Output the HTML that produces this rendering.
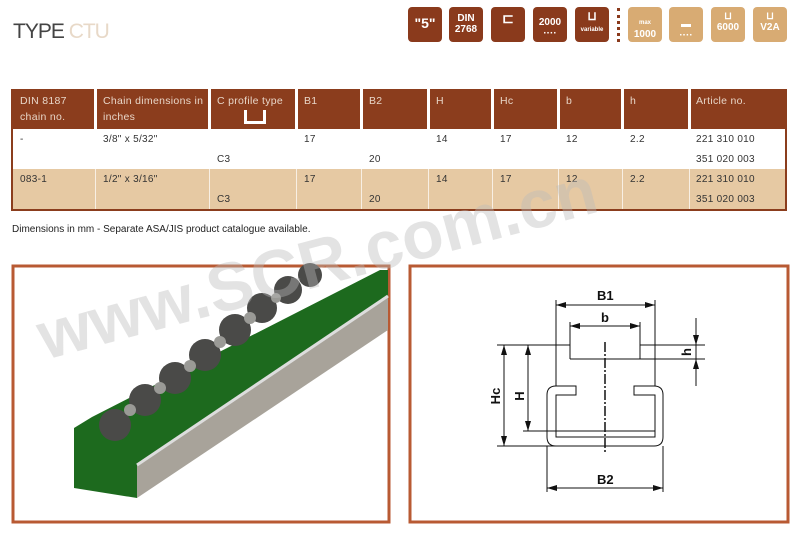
<!DOCTYPE html>
<html><head><meta charset="utf-8"><style>
body{margin:0;width:800px;height:534px;background:#fff;position:relative;overflow:hidden;font-family:"Liberation Sans",sans-serif}
.ic{position:absolute;top:7px;width:34px;height:35px;border-radius:4px;color:#fff;font-weight:bold;text-align:center;font-size:10px;line-height:11px;box-sizing:border-box;padding-top:6px}
.d{background:#8a3a1c}.l{background:#d8ab73}
.tbl{position:absolute;left:11px;top:89px;width:776px;height:122px;background:#8b3d1d}
.c{position:absolute;font-size:10px;color:#333;letter-spacing:.3px}
.h{color:#e8d6c8;font-size:10.5px;line-height:16px}
.sep{position:absolute;top:89px;width:3px;height:40px;background:#fff}
.sep2{position:absolute;top:129px;width:1px;height:80px;background:#fff;opacity:.7}
</style></head><body>
<div style="position:absolute;left:13px;top:20px;font-size:21px;color:#444;letter-spacing:-1px;font-weight:300">TYPE <span style="color:#e8d9c8">CTU</span></div>
<div class="ic d" style="left:408px;font-size:14px;padding-top:11px">"5"</div>
<div class="ic d" style="left:449px">DIN<br>2768</div>
<div class="ic d" style="left:491px;font-size:14px">⊏</div>
<div class="ic d" style="left:533px;padding-top:10px">2000<br>····</div>
<div class="ic d" style="left:575px;font-size:12px;padding-top:4px">⊔<br><span style="font-size:6px">variable</span></div>
<div style="position:absolute;left:617px;top:8px;width:3px;height:34px;border-left:3px dotted #8a3a1c"></div>
<div class="ic l" style="left:628px;padding-top:9px"><span style="font-size:6px">max</span><br>1000</div>
<div class="ic l" style="left:669px;padding-top:12px">▬<br>····</div>
<div class="ic l" style="left:711px;padding-top:4px">⊔<br>6000</div>
<div class="ic l" style="left:753px;padding-top:4px">⊔<br>V2A</div>

<div class="tbl">
<div style="position:absolute;left:2px;top:40px;width:772px;height:40px;background:#fff"></div>
<div style="position:absolute;left:2px;top:80px;width:772px;height:40px;background:#e6c9a3"></div>
</div>
<div class="sep" style="left:94px"></div><div class="sep" style="left:208px"></div><div class="sep" style="left:295px"></div><div class="sep" style="left:360px"></div><div class="sep" style="left:427px"></div><div class="sep" style="left:491px"></div><div class="sep" style="left:557px"></div><div class="sep" style="left:621px"></div><div class="sep" style="left:688px"></div>
<div class="sep2" style="left:95px"></div><div class="sep2" style="left:209px"></div><div class="sep2" style="left:296px"></div><div class="sep2" style="left:361px"></div><div class="sep2" style="left:428px"></div><div class="sep2" style="left:492px"></div><div class="sep2" style="left:558px"></div><div class="sep2" style="left:622px"></div><div class="sep2" style="left:689px"></div>
<div class="c h" style="left:20px;top:93px">DIN 8187<br>chain no.</div>
<div class="c h" style="left:103px;top:93px">Chain dimensions in<br>inches</div>
<div class="c h" style="left:217px;top:93px">C profile type</div>
<div style="position:absolute;left:244px;top:110px;width:16px;height:11px;border:3px solid #fff;border-top:none"></div>
<div class="c h" style="left:304px;top:93px">B1</div><div class="c h" style="left:369px;top:93px">B2</div><div class="c h" style="left:436px;top:93px">H</div><div class="c h" style="left:500px;top:93px">Hc</div><div class="c h" style="left:566px;top:93px">b</div><div class="c h" style="left:630px;top:93px">h</div><div class="c h" style="left:696px;top:93px">Article no.</div>
<div class="c" style="left:20px;top:134px">-</div><div class="c" style="left:103px;top:134px">3/8" x 5/32"</div><div class="c" style="left:304px;top:134px">17</div><div class="c" style="left:436px;top:134px">14</div><div class="c" style="left:500px;top:134px">17</div><div class="c" style="left:566px;top:134px">12</div><div class="c" style="left:630px;top:134px">2.2</div><div class="c" style="left:696px;top:134px">221 310 010</div>
<div class="c" style="left:217px;top:154px">C3</div><div class="c" style="left:369px;top:154px">20</div><div class="c" style="left:696px;top:154px">351 020 003</div>
<div class="c" style="left:20px;top:174px">083-1</div><div class="c" style="left:103px;top:174px">1/2" x 3/16"</div><div class="c" style="left:304px;top:174px">17</div><div class="c" style="left:436px;top:174px">14</div><div class="c" style="left:500px;top:174px">17</div><div class="c" style="left:566px;top:174px">12</div><div class="c" style="left:630px;top:174px">2.2</div><div class="c" style="left:696px;top:174px">221 310 010</div>
<div class="c" style="left:217px;top:194px">C3</div><div class="c" style="left:369px;top:194px">20</div><div class="c" style="left:696px;top:194px">351 020 003</div>
<div class="c" style="left:12px;top:224px;color:#222;letter-spacing:0">Dimensions in mm - Separate ASA/JIS product catalogue available.</div>

<svg style="position:absolute;left:0;top:0" width="800" height="534">
<rect x="13" y="266" width="376" height="256" fill="#fff" stroke="#b85a33" stroke-width="3"/>
<polygon points="137,465 388,296 388,330 137,498" fill="#a8a39a"/>
<polygon points="74,428 92,417 380,270 388,270 388,296 137,465 137,498 74,488" fill="#1d6a1e"/>
<line x1="137" y1="465" x2="388" y2="296" stroke="#ddd" stroke-width="3"/>
<g fill="#4a4a48">
<circle cx="115" cy="425" r="16"/><circle cx="145" cy="400" r="16"/><circle cx="175" cy="378" r="16"/><circle cx="205" cy="355" r="16"/><circle cx="235" cy="330" r="16"/><circle cx="262" cy="308" r="15"/><circle cx="288" cy="290" r="14"/><circle cx="310" cy="275" r="12"/></g>
<g fill="#9a9a96"><circle cx="130" cy="410" r="6"/><circle cx="160" cy="388" r="6"/><circle cx="190" cy="366" r="6"/><circle cx="220" cy="342" r="6"/><circle cx="250" cy="318" r="6"/><circle cx="276" cy="298" r="5"/></g>
<text x="45" y="360" font-size="68" font-weight="bold" fill="#bbb" opacity=".4" transform="rotate(-15 45 360)" font-family="Liberation Sans">www.SCR.com.cn</text>
<rect x="410" y="266" width="378" height="256" fill="#fff" stroke="#b85a33" stroke-width="3"/>
<g stroke="#111" stroke-width="1" fill="none">
<line x1="556" y1="300" x2="556" y2="386"/><line x1="655" y1="300" x2="655" y2="386"/>
<line x1="556" y1="305" x2="655" y2="305"/>
<line x1="570" y1="322" x2="570" y2="359"/><line x1="640" y1="322" x2="640" y2="359"/>
<line x1="570" y1="326" x2="640" y2="326"/>
<line x1="497" y1="345" x2="570" y2="345"/><line x1="640" y1="345" x2="705" y2="345"/>
<line x1="570" y1="359" x2="705" y2="359"/>
<line x1="696" y1="318" x2="696" y2="386"/>
<path d="M576,386 H556 Q547,386 547,395 V437 Q547,446 556,446 H654 Q663,446 663,437 V395 Q663,386 654,386 H634 V395 H655 V437 H556 V395 H576 Z"/>
<line x1="556" y1="431" x2="655" y2="431"/>
<line x1="497" y1="446" x2="556" y2="446"/><line x1="523" y1="431" x2="556" y2="431"/>
<line x1="504" y1="345" x2="504" y2="446"/><line x1="528" y1="345" x2="528" y2="431"/>
<line x1="547" y1="446" x2="547" y2="492"/><line x1="663" y1="446" x2="663" y2="492"/>
<line x1="547" y1="488" x2="663" y2="488"/>
<line x1="605" y1="342" x2="605" y2="452" stroke-dasharray="10,2,2,2" stroke-width="1.5"/>
</g>
<g fill="#111">
<path d="M556,305 l10,-3 v6z M655,305 l-10,-3 v6z M570,326 l10,-3 v6z M640,326 l-10,-3 v6z M547,488 l10,-3 v6z M663,488 l-10,-3 v6z M504,345 l-3,10 h6z M504,446 l-3,-10 h6z M528,345 l-3,10 h6z M528,431 l-3,-10 h6z M696,345 l-3,-10 h6z M696,359 l-3,10 h6z"/>
</g>
<g font-family="Liberation Sans" font-weight="bold" font-size="13" fill="#111">
<text x="597" y="300">B1</text><text x="601" y="322">b</text><text x="597" y="484">B2</text>
<text transform="translate(691,352) rotate(-90)" text-anchor="middle">h</text>
<text transform="translate(500,396) rotate(-90)" text-anchor="middle">Hc</text>
<text transform="translate(524,396) rotate(-90)" text-anchor="middle">H</text>
</g>
</svg>
</body></html>
